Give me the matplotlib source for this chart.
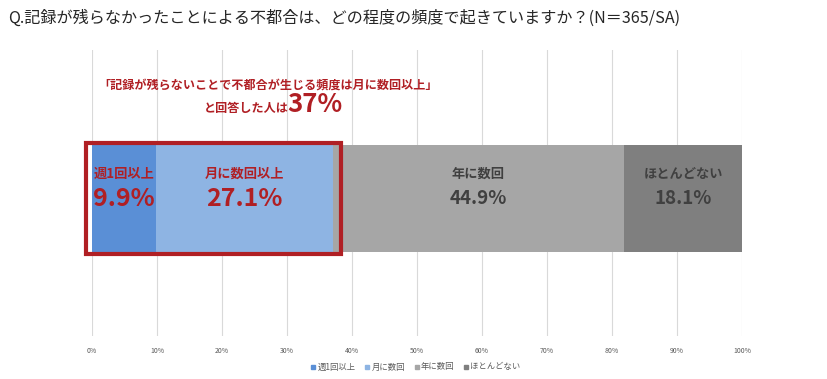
import numpy as np
import matplotlib
matplotlib.use("Agg")
import matplotlib.pyplot as plt
from matplotlib.patches import Rectangle
from matplotlib.lines import Line2D

plt.rcParams['font.family'] = ['Noto Sans CJK JP', 'DejaVu Sans']

# data
categories = ['週1回以上', '月に数回', '年に数回', 'ほとんどない']
inbar_labels = ['週1回以上', '月に数回以上', '年に数回', 'ほとんどない']
values = [9.9, 27.1, 44.9, 18.1]
colors = ['#5a8fd6', '#8eb4e3', '#a6a6a6', '#7f7f7f']
label_colors = ['#b01f24', '#b01f24', '#404040', '#404040']
pct_sizes = [18, 18, 13.5, 13.5]
ticks = np.arange(0, 101, 10)
highlight = 37

red = '#b01f24'

fig = plt.figure(figsize=(8.27, 3.79), dpi=100)
ax = fig.add_axes([92 / 827, 0.113, 650 / 827, 0.755])

bar_y = 0.481
bar_h = 0.377
left = 0
for v, c in zip(values, colors):
    ax.barh(bar_y, v, left=left, height=bar_h, color=c, zorder=2)
    left += v

# labels inside bars
left = 0
for lab, v, lc, ps in zip(inbar_labels, values, label_colors, pct_sizes):
    cx = left + v / 2
    ax.text(cx, bar_y + 0.085, lab, ha='center', va='center', fontsize=9.5,
            fontweight='bold', color=lc, zorder=4)
    ax.text(cx, bar_y + 0.0, f'{v}%', ha='center', va='center', fontsize=ps,
            fontweight='bold', color=lc, zorder=4)
    left += v

# red highlight box around the first two segments
x0 = -0.9
x1 = values[0] + values[1] + 1.3
rect = Rectangle((x0, bar_y - bar_h / 2 - 0.007), x1 - x0, bar_h + 0.014,
                 fill=False, edgecolor=red, linewidth=3, zorder=5, clip_on=False)
ax.add_patch(rect)

# callout text
ax.text(27.1, 0.878, '「記録が残らないことで不都合が生じる頻度は月に数回以上」',
        ha='center', va='center', fontsize=8.7, fontweight='bold', color=red)
ax.text(30.3, 0.784, 'と回答した人は', ha='right', va='baseline', fontsize=8.7,
        fontweight='bold', color=red)
ax.text(30.1, 0.784, f'{highlight}%', ha='left', va='baseline', fontsize=18.5,
        fontweight='bold', color=red)

ax.set_xlim(0, 100)
ax.set_ylim(0, 1)
ax.set_xticks(ticks)
ax.set_xticklabels([f'{t}%' for t in ticks], fontsize=5, color='#595959')
ax.set_yticks([])
ax.tick_params(axis='x', length=0, pad=8)
ax.grid(axis='x', color='#d9d9d9', linewidth=0.8, zorder=0)
for s in ax.spines.values():
    s.set_visible(False)

fig.text(8 / 827, 1 - 18 / 379,
         'Q.記録が残らなかったことによる不都合は、どの程度の頻度で起きていますか？(N＝365/SA)',
         ha='left', va='center', fontsize=11.6, color='#262626')

handles = [Line2D([], [], marker='s', linestyle='none', markersize=3.5,
                  markerfacecolor=c, markeredgecolor=c) for c in colors]
fig.legend(handles, categories, loc='center', bbox_to_anchor=(0.502, 1 - 367 / 379),
           ncol=4, frameon=False, fontsize=6, labelcolor='#595959',
           handletextpad=0.1, columnspacing=1.0, handlelength=0.8)

fig.savefig('out.png', dpi=100)
